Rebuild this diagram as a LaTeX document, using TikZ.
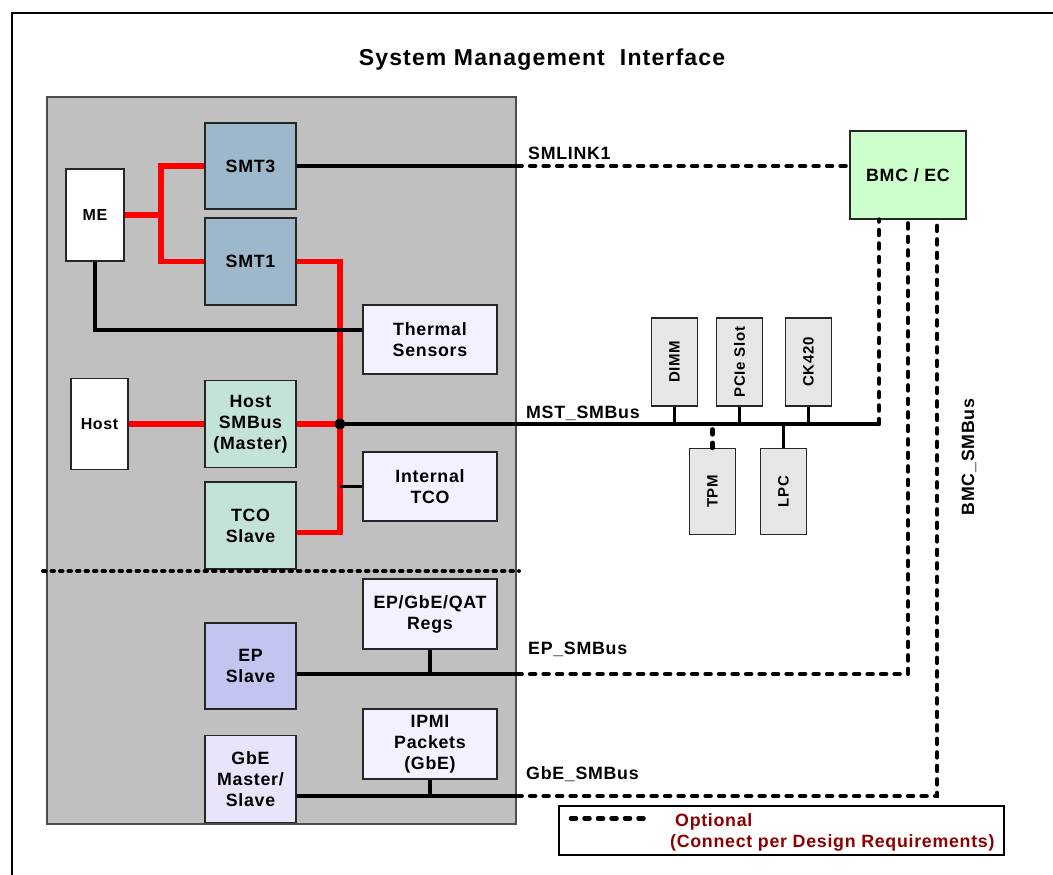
\documentclass[tikz,border=0pt]{standalone}
\usepackage{fontspec}
\setmainfont{Liberation Sans}[LetterSpace=4]
\newfontfamily\titlefont{Liberation Sans}[LetterSpace=5]
\usepackage{graphicx}
\usepackage{tikz}
\usetikzlibrary{calc}

\definecolor{chipgray}{RGB}{192,192,192}
\definecolor{devgray}{RGB}{230,230,230}
\definecolor{smtblue}{RGB}{157,184,202}
\definecolor{mint}{RGB}{196,227,216}
\definecolor{lav}{RGB}{243,240,255}
\definecolor{epblue}{RGB}{195,197,240}
\definecolor{gbelav}{RGB}{233,228,250}
\definecolor{bmcgreen}{RGB}{204,255,204}
\definecolor{optred}{RGB}{140,0,0}

\begin{document}
\begin{tikzpicture}[x=1pt,y=-1pt]
\useasboundingbox (0,0) rectangle (1053,875);
\begin{scope}[
  blk/.style={draw=black!85, line width=1.2pt, inner sep=0pt, align=center,
    font=\bfseries\fontsize{17.8}{21}\selectfont},
  sz/.style 2 args={minimum width=#1pt, minimum height=#2pt},
  dev/.style={blk, fill=devgray, sz={46}{88}, font=\bfseries\fontsize{15}{17}\selectfont},
  bus/.style={line width=3.5pt},
  redbus/.style={line width=5.5pt, red},
  opt/.style={line width=4.5pt, dash pattern=on 5pt off 8.5pt, line cap=round},
  lbl/.style={anchor=base west, inner sep=0pt, font=\bfseries\fontsize{17.8}{21}\selectfont}]

% Frame and title
\draw [line width=2pt] (1053,13) -- (12,13) -- (12,875);
\node [font=\titlefont\bfseries\fontsize{23}{27}\selectfont] (title) at (542,60) {System Management\ \ Interface};

% Chip
\node [blk, fill=chipgray, draw=black!70, sz={469}{727}] (chip) at (281.5,460.5) {};

% Blocks in the chip
\node [blk, fill=white, sz={58}{92}, font=\bfseries\fontsize{16}{19}\selectfont] (me) at (95,215) {ME};
\node [blk, fill=smtblue, sz={91}{86}] (smt3) at (250.5,166) {SMT3};
\node [blk, fill=smtblue, sz={91}{87}] (smt1) at (250.5,261.5) {SMT1};
\node [blk, fill=lav, sz={134}{69}] (thermal) at (430,339.5) {Thermal\\Sensors};
\node [blk, fill=white, sz={57}{91}, font=\bfseries\fontsize{16}{19}\selectfont] (host) at (99.5,424) {Host};
\node [blk, fill=mint, sz={91}{87}] (hostsmb) at (250.5,424) {Host\\SMBus\\(Master)};
\node [blk, fill=mint, sz={91}{87}] (tco) at (250.5,525.5) {TCO\\Slave};
\node [blk, fill=lav, sz={134}{69}] (itco) at (430,486.5) {Internal\\TCO};
\node [blk, fill=lav, sz={134}{70}] (regs) at (430,614) {EP/GbE/QAT\\Regs};
\node [blk, fill=epblue, sz={91}{86}] (epslave) at (250.5,666) {EP\\Slave};
\node [blk, fill=lav, sz={134}{70}] (ipmi) at (430,744) {IPMI\\Packets\\(GbE)};
\node [blk, fill=gbelav, sz={91}{87}] (gbe) at (250.5,779) {GbE\\Master/\\Slave};

% Outside the chip
\node [blk, fill=bmcgreen, sz={116}{88}] (bmc) at (908,175) {BMC / EC};
\node [dev] (dimm) at (674.5,362) {\rotatebox{90}{DIMM}};
\node [dev] (pcie) at (739.5,362) {\rotatebox{90}{PCIe Slot}};
\node [dev] (ck) at (808.5,362) {\rotatebox{90}{CK420}};
\node [dev, sz={46}{86}] (tpm) at (712.5,491.5) {\rotatebox{90}{TPM}};
\node [dev, sz={46}{86}] (lpc) at (783.5,491.5) {\rotatebox{90}{LPC}};

\coordinate (mesplit) at (161,215);
\coordinate (jn) at (340,424);
\coordinate (bmcA) at ([xshift=-29pt]bmc.south);
\coordinate (bmcB) at (bmc.south);
\coordinate (bmcC) at ([xshift=29pt]bmc.south);

% Red links
\draw [redbus] (me.east) -- (mesplit);
\draw [redbus] (smt3.west) -| (mesplit) |- (smt1.west);
\draw [redbus] (smt1.east) -| (jn) |- ([yshift=-7pt]tco.east);
\draw [redbus] (host.east) -- (hostsmb.west);
\draw [redbus] (hostsmb.east) -- (jn);

% SMLINK1
\coordinate (smlA) at (smt3.east -| chip.east);
\draw [bus] (smt3.east) -- (smlA);
\draw [opt] (smlA) -- (smlA -| bmc.west);
\node [lbl] (smlink) at (528,159) {SMLINK1};

% MST_SMBus
\draw [bus] (me.south) |- ([yshift=9.5pt]thermal.west);
\draw [bus] (itco.west -| jn) -- (itco.west);
\draw [bus] (jn) -- (bmcA |- jn);
\draw [opt] (bmcA |- jn) -- (bmcA);
\fill (jn) circle (5.5pt);
\draw [bus] (dimm.south) -- (dimm.south |- jn);
\draw [bus] (pcie.south) -- (pcie.south |- jn);
\draw [bus] (ck.south) -- (ck.south |- jn);
\draw [bus] (lpc.north) -- (lpc.north |- jn);
\draw [opt] (tpm.north) -- (tpm.north |- jn);
\node [lbl] (mstlbl) at (526,418) {MST\_SMBus};

% EP_SMBus
\coordinate (epL) at ([yshift=-8pt]epslave.east);
\coordinate (epR) at (epL -| chip.east);
\draw [bus] (epL) -- (epR);
\draw [bus] (regs.south) -- (regs.south |- epL);
\draw [opt] (epR) -| (bmcB);
\node [lbl] (eplbl) at (528,654) {EP\_SMBus};

% GbE_SMBus
\coordinate (gbeL) at ([yshift=-17pt]gbe.east);
\coordinate (gbeR) at (gbeL -| chip.east);
\draw [bus] (gbeL) -- (gbeR);
\draw [bus] (ipmi.south) -- (ipmi.south |- gbeL);
\draw [opt] (gbeR) -| (bmcC);
\node [lbl] (gbelbl) at (526,779) {GbE\_SMBus};

\node [lbl, anchor=center, rotate=90] (bmclbl) at (969,457) {BMC\_SMBus};

% Divider
\draw [line width=4pt, dash pattern=on 2.5pt off 6pt, line cap=round] (43,571) -- (519,571);

% Legend
\node [draw, line width=2pt, fill=white, sz={445}{49}, inner sep=0pt] (legend) at (781.5,830.5) {};
\draw [opt] ([shift={(13pt,12pt)}]legend.west) -- ++(77,0);
\node [lbl, text=optred] (opttxt) at (675,826) {Optional};
\node [lbl, text=optred] (opttxt2) at (670,847) {(Connect per Design Requirements)};

\end{scope}
\end{tikzpicture}
\end{document}
